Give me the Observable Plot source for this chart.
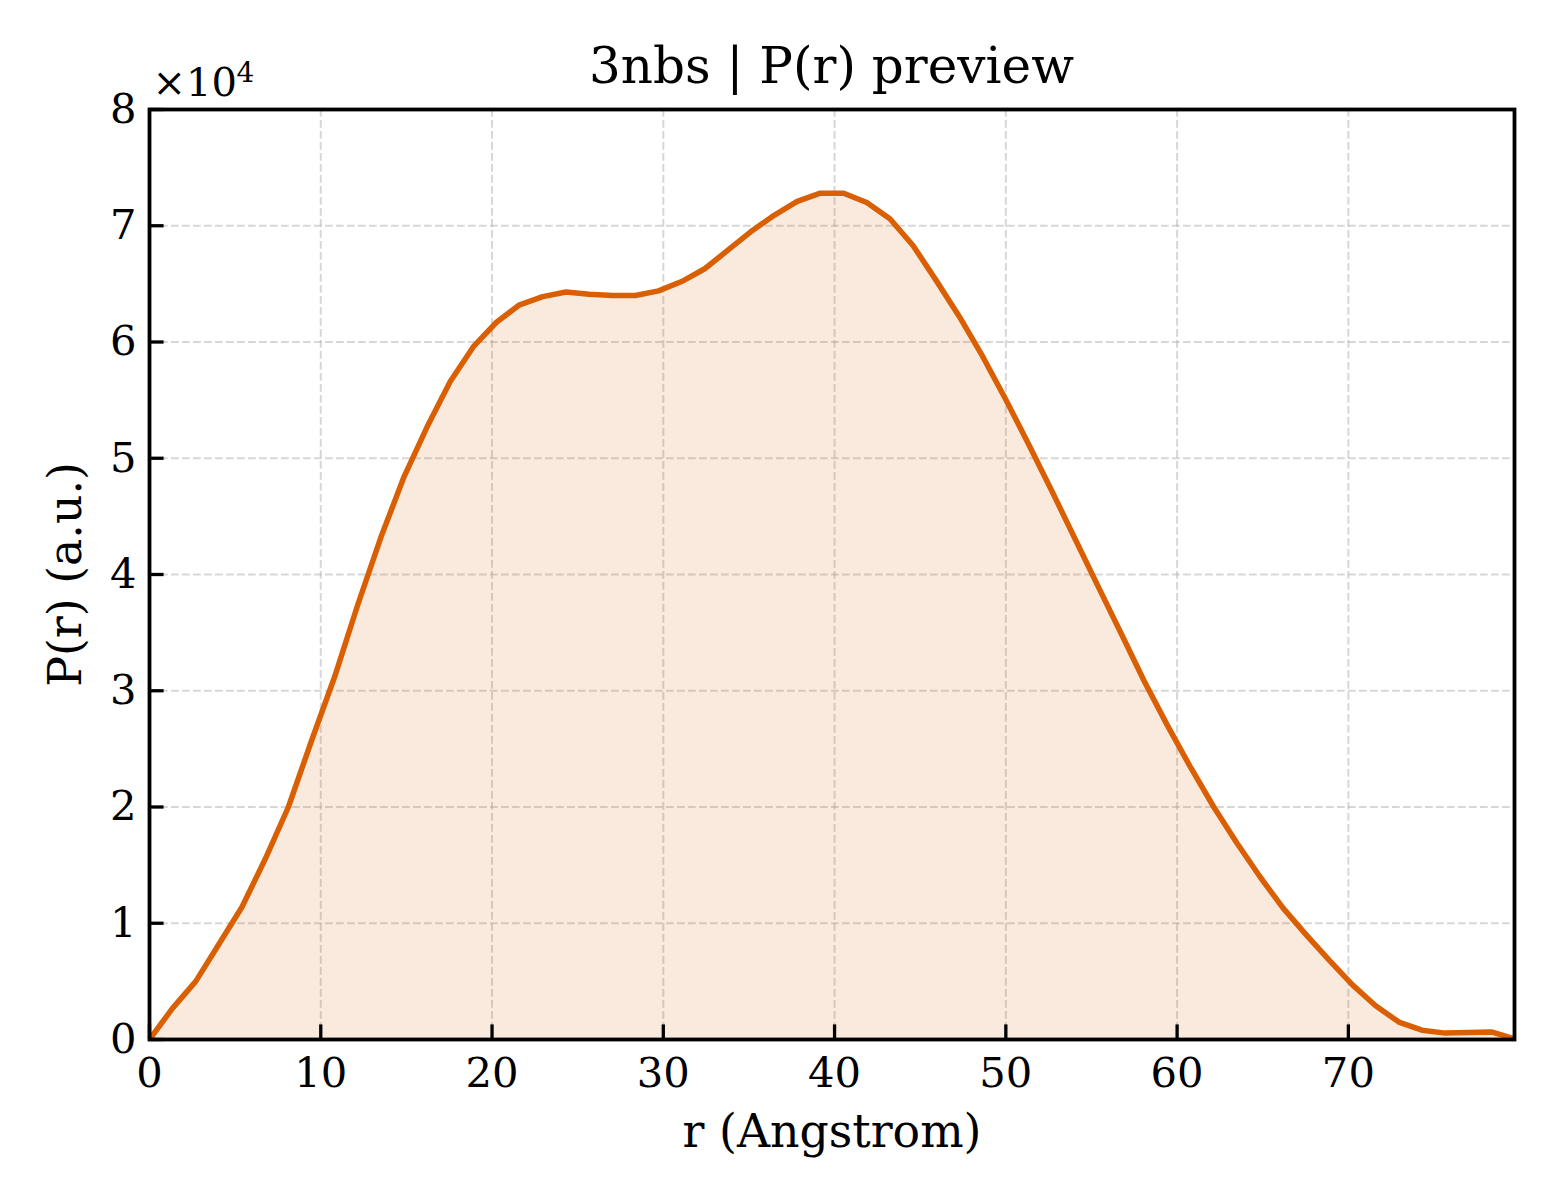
<!DOCTYPE html>
<html>
<head>
<meta charset="utf-8">
<script src="https://cdn.jsdelivr.net/npm/d3@7"></script>
<script src="https://cdn.jsdelivr.net/npm/@observablehq/plot@0.6"></script>
<style>
  html, body { margin: 0; padding: 0; background: white; }
  #wrap { position: relative; width: 1560px; height: 1200px; }
  #title {
    position: absolute; left: 149px; width: 1365px; top: 41px;
    text-align: center; font-family: "DejaVu Serif", serif; font-size: 50px;
    line-height: 1; color: black; white-space: nowrap; z-index: 2;
  }
</style>
</head>
<body>
<div id="wrap">
  <div id="title"></div>
  <div id="chart"></div>
</div>
<script>
// ---- data ----
const titleText = "3nbs | P(r) preview";
const xLabel = "r (Angstrom)";
const yLabel = "P(r) (a.u.)";
const offsetBase = "×10";
const offsetExp = "4";

const rValues = [
  0.00, 1.35, 2.70, 4.05, 5.40, 6.75, 8.11, 9.46, 10.81, 12.16,
  13.51, 14.86, 16.21, 17.56, 18.91, 20.26, 21.61, 22.96, 24.32, 25.67,
  27.02, 28.37, 29.72, 31.07, 32.42, 33.77, 35.12, 36.47, 37.82, 39.17,
  40.53, 41.88, 43.23, 44.58, 45.93, 47.28, 48.63, 49.98, 51.33, 52.68,
  54.03, 55.38, 56.74, 58.09, 59.44, 60.79, 62.14, 63.49, 64.84, 66.19,
  67.54, 68.89, 70.24, 71.59, 72.95, 74.30, 75.65, 77.00, 78.35, 79.70
];
const prValues = [
  0, 2700, 5000, 8200, 11400, 15500, 20000, 25700, 31200, 37400,
  43200, 48400, 52700, 56600, 59600, 61700, 63200, 63900, 64300, 64100,
  64000, 64000, 64400, 65200, 66300, 67900, 69500, 70900, 72100, 72800,
  72800, 72000, 70600, 68300, 65300, 62200, 58800, 55100, 51200, 47200,
  43100, 39000, 34900, 30800, 27000, 23400, 20000, 16900, 14000, 11300,
  9000, 6800, 4700, 2900, 1500, 800, 550, 600, 650, 50
];
const xTicks = [0, 10, 20, 30, 40, 50, 60, 70];
const yTicks = [0, 10000, 20000, 30000, 40000, 50000, 60000, 70000, 80000];
const xDomain = [0, 79.7];
const yDomain = [0, 80000];
const yScaleFactor = 10000;

// ---- chart ----
document.getElementById("title").textContent = titleText;

const data = rValues.map((r, i) => ({r, p: prValues[i]}));

const W = 1560, H = 1200;
const mL = 149, mR = 46, mT = 109, mB = 161;
const plotW = W - mL - mR, plotH = H - mT - mB;
const tickLen = 14.6;
const color = "#d95f02";
const font = "DejaVu Serif";

const gridStyle = {stroke: "#b0b0b0", strokeOpacity: 0.5, strokeWidth: 2, strokeDasharray: "7.7,3.3"};

const chart = Plot.plot({
  width: W, height: H,
  marginLeft: mL, marginRight: mR, marginTop: mT, marginBottom: mB,
  style: {fontFamily: font, fontSize: "41.7px", background: "white", color: "black", overflow: "visible"},
  x: {domain: xDomain, label: null},
  y: {domain: yDomain, label: null},
  marks: [
    Plot.gridX(xTicks, gridStyle),
    Plot.gridY(yTicks, gridStyle),
    Plot.areaY(data, {x: "r", y: "p", fill: color, fillOpacity: 0.13}),
    Plot.lineY(data, {x: "r", y: "p", stroke: color, strokeWidth: 5.5, strokeLinejoin: "round", strokeLinecap: "butt"}),
    Plot.tickX(xTicks, {x: d => d, insetTop: plotH - tickLen, stroke: "black", strokeWidth: 3.3}),
    Plot.tickY(yTicks, {y: d => d, insetRight: plotW - tickLen, stroke: "black", strokeWidth: 3.3}),
    Plot.frame({stroke: "black", strokeWidth: 3.8}),
    Plot.axisX(xTicks, {tickSize: 0, tickPadding: 18, fontSize: 41.7, fontFamily: font, fill: "black", label: null}),
    Plot.axisY(yTicks, {tickSize: 0, tickPadding: 13, fontSize: 41.7, fontFamily: font, fill: "black", label: null,
      tickFormat: d => String(d / yScaleFactor)}),
    Plot.text([xLabel], {frameAnchor: "bottom", lineAnchor: "bottom", dy: 107, fontSize: 45.8, fontFamily: font, fill: "black"}),
    Plot.text([yLabel], {frameAnchor: "left", rotate: -90, textAnchor: "middle", lineAnchor: "middle", dx: -83, fontSize: 45.8, fontFamily: font, fill: "black"}),
    Plot.text([offsetBase], {frameAnchor: "top-left", textAnchor: "start", lineAnchor: "bottom", dx: 3, dy: -14, fontSize: 40, fontFamily: font, fill: "black"}),
    Plot.text([offsetExp], {frameAnchor: "top-left", textAnchor: "start", lineAnchor: "bottom", dx: 87, dy: -28, fontSize: 28, fontFamily: font, fill: "black"})
  ]
});
document.getElementById("chart").appendChild(chart);
</script>
</body>
</html>
